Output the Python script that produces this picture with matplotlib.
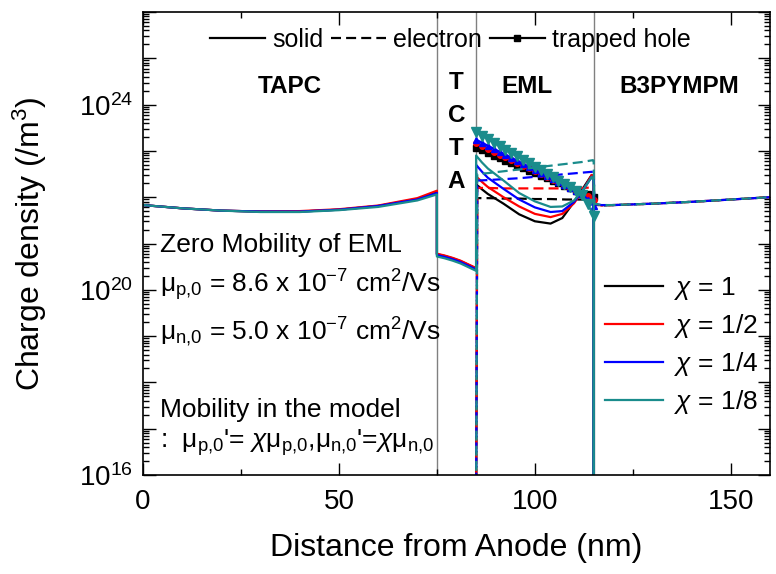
import numpy as np
import matplotlib.pyplot as plt
from matplotlib.lines import Line2D
from matplotlib.ticker import FixedLocator, MultipleLocator, LogLocator, FuncFormatter, NullFormatter

plt.rcParams['font.family'] = ['Liberation Sans', 'DejaVu Sans']
plt.rcParams['mathtext.fontset'] = 'custom'
plt.rcParams['mathtext.rm'] = 'Liberation Sans'
plt.rcParams['mathtext.it'] = 'Liberation Sans:italic'
plt.rcParams['mathtext.bf'] = 'Liberation Sans:bold'

# series labels / colours (chi = 1, 1/2, 1/4, 1/8)
chi_labels = [r'$\chi$ = 1', r'$\chi$ = 1/2', r'$\chi$ = 1/4', r'$\chi$ = 1/8']
colors = ['black', '#ff0000', '#0000ff', '#1a8c8c']
trap_markers = ['s', 'o', '^', 'v']
trap_msize = [4, 4, 5, 7]

# layer boundaries (nm)
boundaries = [75, 85, 115]

# log10 of charge density (/m^3)
# holes in TAPC
tapc_x = [0, 10, 20, 30, 40, 50, 60, 70, 75]
hole_tapc = [
    [21.83, 21.76, 21.71, 21.69, 21.69, 21.73, 21.81, 21.96, 22.11],
    [21.83, 21.76, 21.71, 21.69, 21.70, 21.74, 21.82, 21.98, 22.14],
    [21.83, 21.76, 21.71, 21.69, 21.69, 21.73, 21.81, 21.95, 22.09],
    [21.83, 21.76, 21.71, 21.68, 21.68, 21.72, 21.79, 21.93, 22.06],
]

# holes in TCTA
tcta_x = [75, 77, 79, 81, 83, 85]
hole_tcta = [
    [20.77, 20.73, 20.68, 20.62, 20.54, 20.46],
    [20.78, 20.74, 20.69, 20.63, 20.55, 20.47],
    [20.75, 20.71, 20.66, 20.60, 20.52, 20.44],
    [20.72, 20.68, 20.63, 20.57, 20.49, 20.41],
]

# free holes in EML (drop to ~0 at the B3PYMPM side)
eml_x = [85, 86.5, 88, 92, 96, 100, 104, 107, 110, 112.5, 114.5, 115, 115]
hole_eml = [
    [22.28, 22.17, 22.07, 21.86, 21.63, 21.48, 21.43, 21.55, 21.90, 22.22, 22.48, 22.40, 15],
    [22.45, 22.33, 22.22, 22.00, 21.80, 21.64, 21.57, 21.64, 21.87, 22.18, 22.48, 22.40, 15],
    [22.70, 22.55, 22.42, 22.18, 21.95, 21.78, 21.68, 21.70, 21.90, 22.18, 22.44, 22.36, 15],
    [22.90, 22.75, 22.62, 22.36, 22.09, 21.91, 21.79, 21.80, 21.93, 22.18, 22.44, 22.36, 15],
]

# electrons in EML
elec_eml_x = [85, 85.3, 88, 92, 96, 100, 104, 108, 112, 114.8, 115]
elec_eml = [
    [15, 21.98, 21.98, 21.97, 21.97, 21.96, 21.96, 21.95, 21.95, 21.94, 21.93],
    [15, 22.20, 22.20, 22.19, 22.19, 22.19, 22.19, 22.19, 22.20, 22.21, 22.20],
    [15, 22.36, 22.37, 22.39, 22.41, 22.44, 22.47, 22.50, 22.53, 22.55, 22.54],
    [15, 22.50, 22.52, 22.56, 22.60, 22.64, 22.68, 22.72, 22.76, 22.80, 22.79],
]

# electrons in B3PYMPM
b3p_x = [115.2, 117, 120, 130, 140, 150, 160]
elec_b3p = [
    [21.84, 21.82, 21.83, 21.86, 21.90, 21.95, 22.00],
    [21.85, 21.82, 21.83, 21.86, 21.90, 21.95, 22.00],
    [21.85, 21.83, 21.83, 21.86, 21.90, 21.95, 22.00],
    [21.86, 21.83, 21.83, 21.86, 21.90, 21.95, 22.00],
]

# trapped holes in EML
trap_x = [85, 86.5, 88, 89.5, 91, 92.5, 94, 95.5, 97, 98.5, 100, 101.5,
          103, 104.5, 106, 107.5, 109, 110.5, 112, 113.5, 115, 115]
trap = [
    [23.06, 23.01, 22.95, 22.90, 22.84, 22.79, 22.73, 22.68, 22.62, 22.57, 22.52,
     22.46, 22.41, 22.35, 22.30, 22.24, 22.19, 22.14, 22.10, 22.06, 22.00, 15],
    [23.16, 23.10, 23.04, 22.98, 22.92, 22.86, 22.80, 22.74, 22.68, 22.62, 22.56,
     22.50, 22.44, 22.38, 22.32, 22.26, 22.20, 22.14, 22.09, 22.02, 21.95, 15],
    [23.24, 23.18, 23.11, 23.05, 22.98, 22.92, 22.85, 22.79, 22.72, 22.66, 22.59,
     22.53, 22.46, 22.40, 22.33, 22.27, 22.20, 22.14, 22.07, 21.95, 21.80, 15],
    [23.41, 23.33, 23.26, 23.18, 23.11, 23.03, 22.96, 22.88, 22.81, 22.73, 22.66,
     22.58, 22.51, 22.43, 22.36, 22.28, 22.21, 22.13, 22.05, 21.85, 21.60, 15],
]

fig = plt.figure(figsize=(7.76, 5.74), dpi=100)
ax = fig.add_axes([143 / 776, 1 - 475 / 574, 627 / 776, 463 / 574])
ax.set_yscale('log')

for b in boundaries:
    ax.axvline(b, color='#808080', lw=1, zorder=0.5)

hole_lines = []
for i, c in enumerate(colors):
    hx = tapc_x + tcta_x + eml_x
    hy = hole_tapc[i] + hole_tcta[i] + hole_eml[i]
    ln, = ax.plot(hx, 10 ** np.array(hy), color=c, lw=1.6, label=chi_labels[i])
    hole_lines.append(ln)
    ex = elec_eml_x + b3p_x
    ey = elec_eml[i] + elec_b3p[i]
    ax.plot(ex, 10 ** np.array(ey), color=c, lw=1.6, linestyle=(i * 1.5, (4.5, 2.3)))
    ax.plot(trap_x, 10 ** np.array(trap[i]), color=c, lw=1.6, marker=trap_markers[i],
            ms=trap_msize[i], markevery=slice(0, -1))

ax.set_xlim(0, 160)
ax.set_ylim(1e16, 1e26)

ax.xaxis.set_major_locator(MultipleLocator(50))
ax.xaxis.set_minor_locator(MultipleLocator(25))
ax.yaxis.set_major_locator(FixedLocator([10.0 ** k for k in range(16, 27)]))
ax.yaxis.set_minor_locator(LogLocator(base=10, subs=np.arange(2, 10), numticks=30))
ax.yaxis.set_minor_formatter(NullFormatter())
ax.yaxis.set_major_formatter(FuncFormatter(
    lambda v, p: r'$10^{%d}$' % round(np.log10(v)) if round(np.log10(v)) in (16, 20, 24) else ''))

ax.tick_params(which='both', direction='in', top=True, right=True, labelsize=20, width=1)
ax.tick_params(which='major', length=9)
ax.tick_params(which='minor', length=4.5)
ax.tick_params(axis='x', which='major', pad=10)
ax.tick_params(axis='y', which='major', pad=7)
for s in ax.spines.values():
    s.set_linewidth(1.2)

ax.set_xlabel('Distance from Anode (nm)', fontsize=23)
ax.set_ylabel('Charge density (/m$^3$)', fontsize=23)
ax.xaxis.set_label_coords(0.5, -0.125)
ax.yaxis.set_label_coords(-0.15, 0.5)

# layer names
lab_kw = dict(transform=ax.transAxes, fontsize=17.5, fontweight='bold', ha='center', va='baseline')
ax.text(0.2344, 0.825, 'TAPC', **lab_kw)
ax.text(0.6124, 0.825, 'EML', **lab_kw)
ax.text(0.855, 0.825, 'B3PYMPM', **lab_kw)
for ch, yb in zip('TCTA', [0.8337, 0.7624, 0.6911, 0.6199]):
    ax.text(0.5, yb, ch, **lab_kw)

# mobility notes
note_kw = dict(transform=ax.transAxes, fontsize=19, ha='left', va='baseline')
ax.text(0.027, 0.4806, 'Zero Mobility of EML', **note_kw)
ax.text(0.027, 0.3942, r'μ$_{\mathregular{p{,}0}}$ = 8.6 x 10$^{\mathregular{-7}}$ cm$^{\mathregular{2}}$/Vs', **note_kw)
ax.text(0.027, 0.2927, r'μ$_{\mathregular{n{,}0}}$ = 5.0 x 10$^{\mathregular{-7}}$ cm$^{\mathregular{2}}$/Vs', **note_kw)
ax.text(0.027, 0.1263, 'Mobility in the model', **note_kw)
ax.text(0.027, 0.0583,
        r":  μ$_{\mathregular{p{,}0}}$'= $\chi$μ$_{\mathregular{p{,}0}}$,μ$_{\mathregular{n{,}0}}$'=$\chi$μ$_{\mathregular{n{,}0}}$",
        **note_kw)

# line-style legend on top
style_handles = [
    Line2D([], [], color='black', lw=1.6),
    Line2D([], [], color='black', lw=1.6, linestyle=(0, (4.5, 2.3))),
    Line2D([], [], color='black', lw=1.6, marker='s', ms=4),
]
leg1 = ax.legend(style_handles, ['solid', 'electron', 'trapped hole'], ncol=3, loc='center',
                 bbox_to_anchor=(0.49, 0.94), frameon=False, fontsize=18, handlelength=2.2,
                 handletextpad=0.3, columnspacing=0.3, borderpad=0, borderaxespad=0)
ax.add_artist(leg1)

ax.legend(handles=hole_lines, loc='upper left', bbox_to_anchor=(0.737, 0.432), frameon=False,
          fontsize=19, handlelength=2.2, handletextpad=0.4, labelspacing=0.38,
          borderpad=0, borderaxespad=0)

fig.savefig('out.png', dpi=100)
